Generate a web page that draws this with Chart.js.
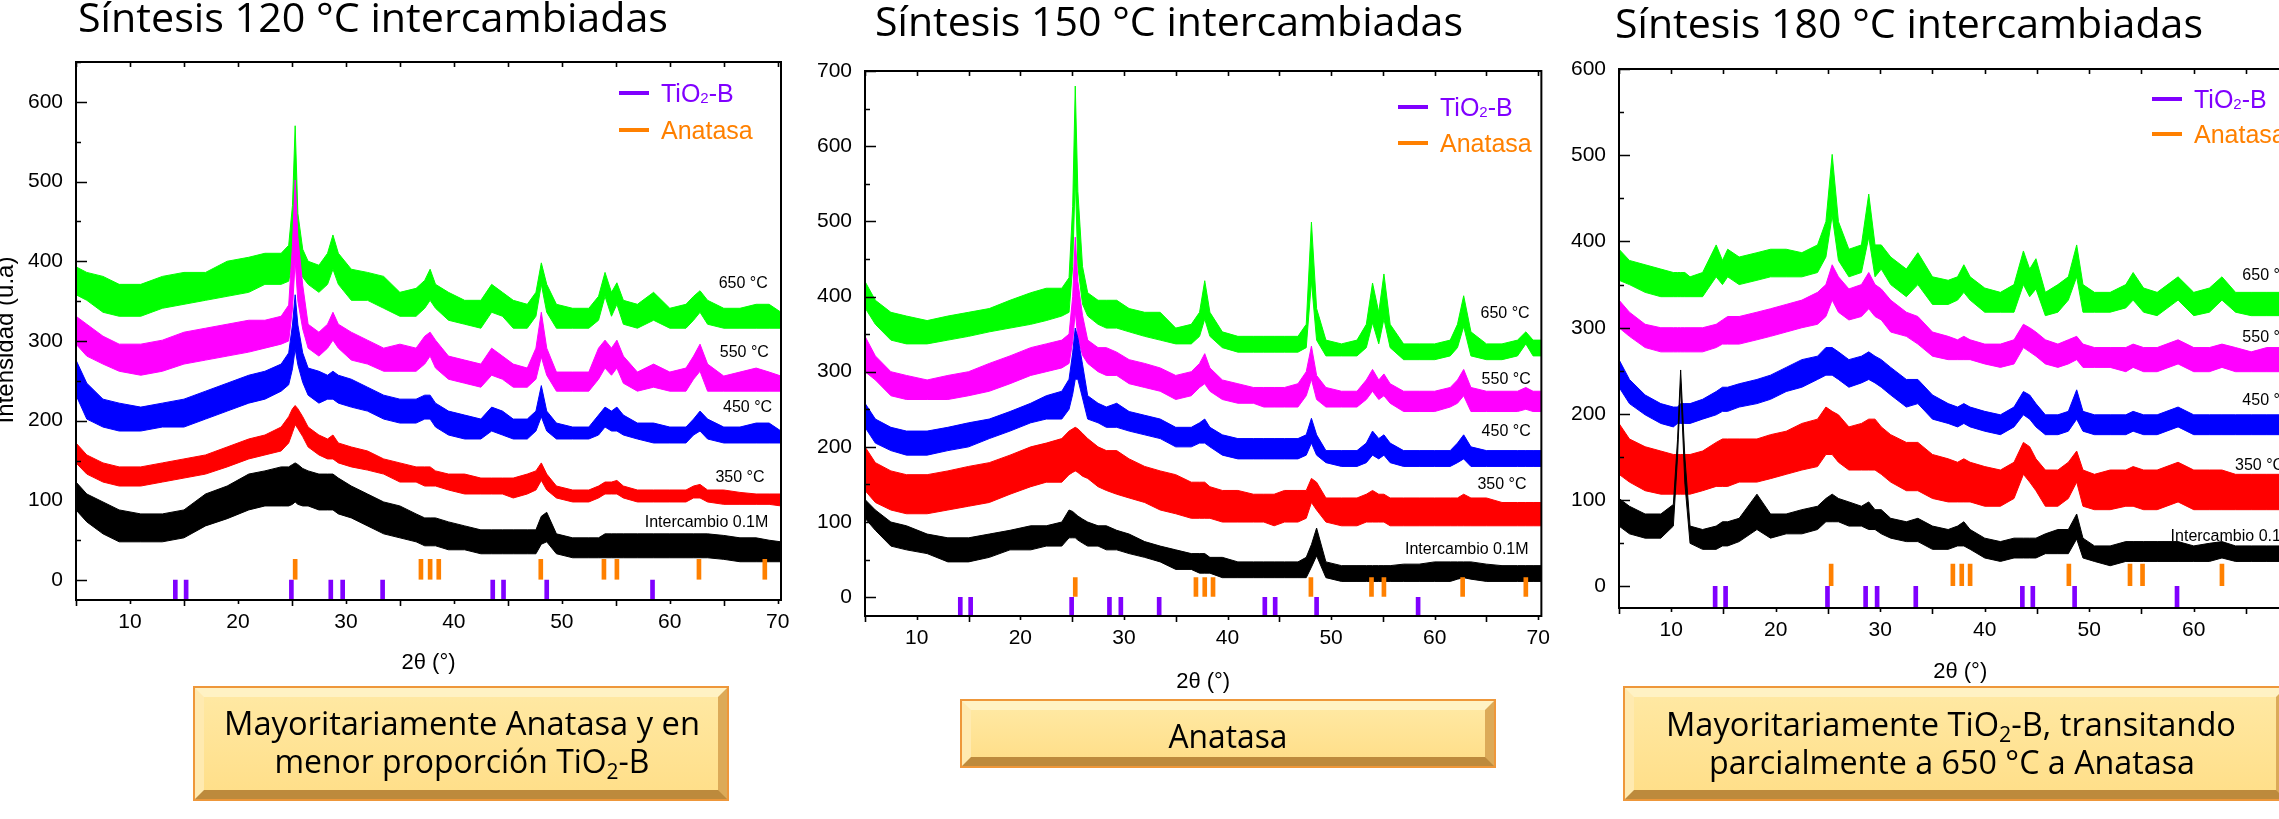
<!DOCTYPE html>
<html>
<head>
<meta charset="utf-8">
<script src="https://cdn.jsdelivr.net/npm/chart.js@4.4.1/dist/chart.umd.min.js"></script>
<style>
  html, body { margin: 0; padding: 0; background: #fff; }
  body { position: relative; width: 2279px; height: 819px; overflow: hidden; }
  canvas { position: absolute; }
  .box {
    position: absolute; box-sizing: border-box;
    border-style: solid; border-width: 9px;
    border-color: #FFF2C4 #DCAA58 #BD8A3C #FFEAB0;
    background: linear-gradient(#FFE8A2, #FFDF8A);
    outline: 2px solid #EE973A;
  }
  svg.txt { position: absolute; left: 0; top: 0; }
</style>
</head>
<body>
<div class="box" style="left:195px;top:688px;width:532px;height:111px"></div>
<div class="box" style="left:962px;top:701px;width:532px;height:65px"></div>
<div class="box" style="left:1625px;top:688px;width:660px;height:111px"></div>

<canvas id="c120" width="800" height="700" style="left:0;top:0"></canvas>
<canvas id="c150" width="780" height="720" style="left:780px;top:0"></canvas>
<canvas id="c180" width="760" height="700" style="left:1560px;top:0"></canvas>

<svg class="txt" width="2279" height="819">
  <g font-family="'Open Sans', 'Noto Sans', sans-serif" fill="#000">
    <text x="78" y="32" font-size="41" textLength="590" lengthAdjust="spacingAndGlyphs">Síntesis 120 °C intercambiadas</text>
    <text x="875" y="36" font-size="41" textLength="588" lengthAdjust="spacingAndGlyphs">Síntesis 150 °C intercambiadas</text>
    <text x="1615" y="38" font-size="41" textLength="588" lengthAdjust="spacingAndGlyphs">Síntesis 180 °C intercambiadas</text>

    <text x="462" y="735" font-size="32" text-anchor="middle" textLength="476" lengthAdjust="spacingAndGlyphs">Mayoritariamente Anatasa y en</text>
    <text x="462" y="773" font-size="32" text-anchor="middle" textLength="375" lengthAdjust="spacingAndGlyphs">menor proporción TiO<tspan font-size="21" dy="6">2</tspan><tspan dy="-6">-B</tspan></text>

    <text x="1228" y="748" font-size="32" text-anchor="middle" textLength="119" lengthAdjust="spacingAndGlyphs">Anatasa</text>

    <text x="1951" y="736" font-size="32" text-anchor="middle" textLength="570" lengthAdjust="spacingAndGlyphs">Mayoritariamente TiO<tspan font-size="21" dy="6">2</tspan><tspan dy="-6">-B, transitando</tspan></text>
    <text x="1952" y="774" font-size="32" text-anchor="middle" textLength="486" lengthAdjust="spacingAndGlyphs">parcialmente a 650 °C a Anatasa</text>
  </g>
</svg>

<script>
// ---------- Reference reflections (2θ, degrees) ----------
const anatasePeaks = [25.3, 36.95, 37.8, 38.6, 48.05, 53.9, 55.1, 62.7, 68.8];
const tio2bPeaks = [14.2, 15.2, 24.95, 28.6, 29.7, 33.4, 43.6, 44.6, 48.6, 58.4];
const anataseMarkSpan = [1, 26];
const tio2bMarkSpan = [-25, 0];

// ---------- Tick labels ----------
const xTickValues = [10, 20, 30, 40, 50, 60, 70];
const yTicks120 = [0, 100, 200, 300, 400, 500, 600];
const yTicks150 = [0, 100, 200, 300, 400, 500, 600, 700];
const yTicks180 = [0, 100, 200, 300, 400, 500, 600];

const seriesNames = ['Intercambio 0.1M', '350 °C', '450 °C', '550 °C', '650 °C'];

// ---------- Síntesis 120 °C : upper / lower edge of each noisy trace ----------
const twoTheta120 = [5,6,7.5,9,11,13,15,17,19,21, 22.5,24,24.7,25.05,25.3,25.55,26,26.5,27.5,28.3, 28.8,29.3,30.5,32,33.5,35,36.5,37.3,37.8,38.3, 39.5,41,42.5,43.5,44.5,45.5,46.8,47.6,48.1,48.6, 49.5,51,52.5,53.4,54,54.6,55.1,55.7,57,58.5, 60,61.5,62.2,62.8,63.5,65,66.5,68,69.2,70.3];
const hi120_650 = [393,386,381,371,371,381,386,386,400,405, 410,410,420,470,570,460,415,400,395,410, 433,410,390,386,381,361,366,376,390,371, 361,351,351,371,361,351,346,361,398,371, 346,341,341,356,386,361,373,351,346,361, 341,346,356,363,351,341,341,346,346,336];
const lo120_650 = [358,351,336,331,331,341,346,351,356,361, 371,371,375,400,450,400,380,371,361,371, 390,371,351,351,341,331,331,341,351,341, 326,321,316,336,331,316,316,331,371,336, 316,316,316,326,356,331,346,321,316,326, 316,316,326,336,321,316,316,316,316,316];
const hi120_550 = [331,321,306,296,296,301,311,316,321,326, 326,331,345,420,502,430,370,321,311,321, 336,321,311,301,291,296,291,306,311,301, 281,276,271,291,281,271,266,291,336,291, 261,261,261,291,301,291,301,281,261,271, 261,266,281,296,271,256,261,266,261,256];
const lo120_550 = [296,281,271,262,257,262,271,276,281,286, 291,296,300,340,400,350,315,291,281,291, 301,291,276,271,262,262,262,271,281,266, 252,247,242,257,252,242,242,252,280,257, 237,237,237,252,266,257,266,247,237,242, 237,237,252,262,237,237,237,237,237,237];
const hi120_450 = [276,247,227,222,217,222,227,237,247,257, 262,271,285,320,358,320,285,266,262,257, 262,257,252,242,232,227,227,232,232,222, 212,207,202,217,212,202,202,212,244,212, 197,192,192,207,217,212,217,207,197,197, 192,192,202,212,202,192,192,197,197,187];
const lo120_450 = [232,202,192,187,187,192,192,202,212,222, 227,237,245,265,290,270,248,232,222,227, 227,222,217,212,202,197,197,202,202,192, 182,177,177,187,182,177,177,187,205,187, 177,177,177,182,192,187,187,182,177,172, 172,172,182,187,177,172,172,172,172,172];
const hi120_350 = [172,157,147,142,142,147,152,157,167,177, 182,192,205,215,219,215,205,192,182,177, 182,172,167,162,152,147,142,142,142,137, 133,133,128,128,128,128,133,137,147,133, 118,113,113,118,123,123,125,118,113,113, 113,113,118,120,113,113,110,108,108,108];
const lo120_350 = [147,133,123,118,118,123,128,133,142,152, 157,162,172,185,195,190,180,167,157,152, 152,147,142,138,133,123,123,118,118,118, 113,108,108,108,108,103,108,113,125,113, 103,98,98,103,108,108,108,103,98,98, 98,98,103,103,98,95,95,95,95,93];
const hi120_01M = [123,108,98,88,83,83,88,108,118,133, 137,142,142,145,147,145,140,137,133,133, 133,128,118,108,98,93,83,78,78,78, 73,68,63,63,63,63,63,63,80,85, 58,53,53,53,58,58,58,58,58,58, 58,58,58,58,58,56,53,53,50,48];
const lo120_01M = [88,73,58,48,48,48,53,68,77,88, 93,93,93,95,98,95,93,93,88,88, 88,83,78,68,58,53,48,43,43,43, 38,38,33,33,33,33,33,33,45,48, 33,28,28,28,28,28,28,28,28,28, 28,28,28,28,28,26,23,23,23,23];

// ---------- Síntesis 150 °C ----------
const twoTheta150 = [5,6,7.5,9,11,13,15,17,19,21, 22.5,24,24.7,25.05,25.3,25.55,26,26.5,27.5,28.3, 29.3,30.5,32,33.5,35,36.5,37.3,37.8,38.3,39.5, 41,42.5,43.5,44.5,45.5,46.8,47.6,48.1,48.6,49.5, 51,52.5,53.4,54,54.6,55.1,55.7,57,58.5,60, 61.5,62.2,62.8,63.5,65,66.5,68,68.8,69.5,70.3];
const hi150_650 = [420,395,379,374,368,374,379,384,395,405, 411,411,425,520,680,540,440,405,395,395, 395,384,379,379,358,363,379,421,379,353, 347,347,347,347,347,347,363,499,384,342, 337,342,363,418,379,430,363,337,337,337, 342,363,401,353,337,337,342,353,342,342];
const lo150_650 = [385,363,342,337,337,342,347,353,358,363, 368,374,379,440,560,440,390,374,363,358, 358,353,347,342,337,337,347,370,347,332, 326,326,326,326,326,326,332,420,342,321, 321,321,332,365,337,370,332,316,316,316, 321,332,360,321,316,316,321,337,321,321];
const hi150_550 = [347,321,300,295,289,295,300,311,321,332, 337,342,350,400,479,420,375,342,332,332, 326,316,311,305,295,300,311,324,305,289, 284,279,279,279,279,284,300,334,295,279, 274,274,289,303,289,297,284,274,274,274, 279,289,303,279,274,274,274,279,274,274];
const lo150_550 = [300,289,268,263,263,263,268,274,284,295, 300,305,311,340,380,345,322,311,300,295, 295,284,279,274,263,268,279,284,274,263, 258,258,253,253,253,253,268,290,263,253, 253,253,263,274,263,268,258,247,247,247, 253,258,268,247,247,247,247,250,247,247];
const hi150_450 = [258,237,226,221,221,226,232,237,247,258, 268,274,290,325,358,345,310,268,258,253, 258,247,242,237,226,226,232,237,226,216, 211,211,211,211,211,211,216,238,216,195, 195,195,205,221,211,216,205,195,195,195, 195,205,216,200,195,195,195,195,195,195];
const lo150_450 = [226,205,195,189,189,195,200,211,221,232, 237,237,250,270,290,290,265,237,232,226, 226,221,216,211,200,200,205,205,200,189, 184,184,184,184,184,184,189,205,189,179, 174,174,179,189,184,189,179,174,174,174, 174,179,184,174,174,174,174,174,174,174];
const hi150_350 = [200,179,168,163,163,168,174,179,189,200, 205,211,221,224,226,224,218,211,200,195, 195,184,174,168,163,153,153,153,147,142, 142,137,137,137,142,142,142,158,153,132, 132,132,137,142,137,137,132,132,132,132, 132,132,137,132,132,126,126,126,126,126];
const lo150_350 = [142,126,116,111,111,116,121,126,137,147, 153,153,163,166,168,166,161,158,147,142, 137,132,126,116,111,105,105,105,105,100, 100,100,100,95,100,100,105,126,116,100, 95,95,100,100,100,100,95,95,95,95, 95,95,95,95,95,95,95,95,95,95];
const hi150_01M = [130,116,100,95,84,79,79,84,89,95, 95,100,116,114,111,108,104,100,95,95, 89,84,74,68,63,58,58,58,53,53, 47,47,47,47,47,47,53,70,92,47, 42,42,42,42,42,42,42,44,44,47, 47,47,47,47,44,42,42,42,42,42];
const lo150_01M = [105,89,68,63,58,47,47,53,63,63, 68,68,79,79,79,76,72,68,68,63, 63,58,53,47,37,37,32,32,32,26, 26,26,26,26,26,26,26,40,55,26, 21,21,21,21,21,21,21,21,21,21, 21,24,26,24,21,21,21,21,21,21];

// ---------- Síntesis 180 °C ----------
const twoTheta180 = [5,6,7.5,9,10.2,10.6,10.9,11.3,11.8,13, 14.3,14.9,15.4,16.5,18.2,19.5,21,22.5,24,24.8, 25.4,26,27,28.2,28.9,29.5,30.1,31,32.5,33.6, 35,36.5,37.4,38,38.6,40,41.5,42.8,43.7,44.3, 44.9,45.8,47,48,48.8,49.4,50.5,52,53.5,54.2, 55.2,56.5,58.5,60,61.5,62.7,64,65.5,67,68.5, 70.3];
const hi180_650 = [391,378,373,368,364,364,364,364,359,364, 396,378,391,382,387,391,391,387,396,423, 501,423,391,396,455,396,396,382,368,387, 359,355,359,373,359,346,341,350,389,368, 380,341,350,359,396,350,341,341,350,364, 346,341,359,341,346,359,341,341,341,341, 341];
const lo180_650 = [355,350,341,336,336,336,336,336,336,336, 359,350,359,350,355,359,359,359,364,382, 430,378,359,364,405,359,368,350,336,350, 327,327,332,341,332,318,318,318,350,336, 345,314,318,332,359,318,318,318,323,332, 318,314,332,314,318,332,318,314,314,314, 314];
const hi180_550 = [332,318,304,300,300,300,300,300,300,300, 304,309,313,313,318,322,327,332,341,350, 373,359,345,350,364,350,345,332,318,313, 295,290,286,290,286,281,281,286,304,300, 295,286,281,286,290,281,277,277,277,281, 277,277,286,277,277,281,277,272,277,277, 277];
const lo180_550 = [300,290,277,272,272,272,272,272,272,272, 277,281,281,281,286,290,295,300,304,313, 332,318,309,313,322,313,309,295,290,281, 267,263,263,263,263,258,254,258,277,272, 267,258,254,258,263,254,254,254,249,254, 249,249,258,249,249,254,249,249,249,249, 249];
const hi180_450 = [263,240,222,212,208,208,212,212,212,217, 226,231,231,235,240,245,254,263,267,277, 277,272,263,267,272,267,263,254,240,240, 222,212,208,212,208,203,199,208,226,222, 212,199,199,203,228,203,199,199,199,203, 199,199,208,199,199,199,199,199,199,199, 199];
const lo180_450 = [231,212,199,189,185,189,189,189,189,194, 199,203,203,208,212,217,226,231,240,245, 245,240,231,236,240,236,231,222,208,212, 194,189,185,189,185,180,176,185,199,194, 185,176,176,180,194,180,176,176,176,180, 176,176,185,176,176,176,176,176,176,176, 176];
const hi180_350 = [189,171,162,157,153,153,153,153,153,157, 167,171,171,171,171,176,180,189,194,208, 203,199,185,189,194,194,185,176,167,167, 153,148,144,148,144,139,135,144,167,162, 148,135,135,144,157,135,130,135,135,139, 135,135,144,135,135,135,130,130,130,130, 130];
const lo180_350 = [130,121,111,107,107,107,107,107,107,111, 116,116,116,121,121,125,130,135,139,153, 153,144,135,135,135,135,130,121,111,111, 102,98,98,98,98,93,93,102,130,121, 111,93,93,102,121,93,89,89,93,93, 89,89,98,89,89,89,89,89,89,89, 89];
const hi180_01M = [102,93,84,84,95,170,251,150,70,66, 70,75,75,79,107,84,84,89,93,102, 107,102,98,93,98,89,89,79,75,79, 70,66,70,75,66,56,52,56,56,56, 56,61,66,66,84,56,47,47,52,52, 52,52,52,47,50,52,47,47,47,47, 47];
const lo180_01M = [70,61,56,56,70,150,235,120,50,43, 43,47,47,52,66,56,61,61,66,75, 75,75,70,70,66,66,61,56,52,52, 43,43,47,47,43,33,29,33,33,33, 33,38,38,38,55,33,29,24,29,29, 29,29,29,29,29,33,29,29,29,29, 29];

// ---------- drawing ----------
const FONT = '"Liberation Sans", Arial, Helvetica, sans-serif';
const COLORS = ['#000000', '#FF0000', '#0000FF', '#FF00FF', '#00FF00'];
const PURPLE = '#8000FF', ORANGE = '#FF8000';

Chart.defaults.font.family = FONT;
Chart.defaults.color = '#000';

function pts(grid, vals) { return grid.map((t, i) => ({ x: t, y: vals[i] })); }

function buildDatasets(grid, his, los) {
  const ds = [
    { type: 'bar', label: 'Anatasa', data: anatasePeaks.map(p => ({ x: p, y: anataseMarkSpan })),
      backgroundColor: ORANGE, barThickness: 4, grouped: false, borderWidth: 0 },
    { type: 'bar', label: 'TiO2-B', data: tio2bPeaks.map(p => ({ x: p, y: tio2bMarkSpan })),
      backgroundColor: PURPLE, barThickness: 4, grouped: false, borderWidth: 0 }
  ];
  his.forEach((hi, k) => {
    ds.push({ type: 'line', label: seriesNames[k], data: pts(grid, hi), borderColor: COLORS[k],
      borderWidth: 1, pointRadius: 0, tension: 0, fill: false });
    ds.push({ type: 'line', label: seriesNames[k], data: pts(grid, los[k]), borderColor: COLORS[k],
      backgroundColor: COLORS[k], borderWidth: 1, pointRadius: 0, tension: 0, fill: '-1' });
  });
  return ds;
}

const decor = {
  id: 'decor',
  afterDatasetsDraw(chart, args, o) {
    const { ctx, chartArea: a, scales: { x, y } } = chart;
    ctx.save();
    ctx.strokeStyle = '#000';
    ctx.lineWidth = 2;
    ctx.strokeRect(a.left, a.top, a.right - a.left, a.bottom - a.top);
    ctx.lineWidth = 1.6;
    ctx.beginPath();
    for (let v = Math.ceil(y.min / 50) * 50; v <= y.max; v += 50) {
      const py = Math.round(y.getPixelForValue(v)) + 0.5;
      const len = v % 100 === 0 ? 11 : 5;
      ctx.moveTo(a.left, py); ctx.lineTo(a.left + len, py);
    }
    for (let t = 5; t <= x.max; t += 5) {
      const px = Math.round(x.getPixelForValue(t)) + 0.5;
      ctx.moveTo(px, a.bottom); ctx.lineTo(px, a.bottom + (t % 10 === 5 ? 6 : 4));
      ctx.moveTo(px, a.top); ctx.lineTo(px, a.top + 5);
    }
    ctx.stroke();

    // curve labels
    ctx.fillStyle = '#000';
    ctx.font = '16px ' + FONT;
    ctx.textAlign = 'center';
    ctx.textBaseline = 'middle';
    o.labels.forEach((l, k) => {
      ctx.fillText(seriesNames[k], x.getPixelForValue(l[0]), y.getPixelForValue(l[1]));
    });

    // x axis title
    ctx.font = '22px ' + FONT;
    ctx.fillText('2θ (°)', (a.left + a.right) / 2, o.xTitleY);

    // y axis title (only on the first panel)
    if (o.yTitle) {
      ctx.save();
      ctx.translate(o.yTitle[0], o.yTitle[1]);
      ctx.rotate(-Math.PI / 2);
      ctx.textBaseline = 'alphabetic';
      ctx.font = '24px ' + FONT;
      ctx.fillText('Intensidad (u.a)', 0, 0);
      ctx.restore();
    }

    // phase legend
    const L = o.legend;
    ctx.lineWidth = 4;
    ctx.textAlign = 'left';
    ctx.textBaseline = 'alphabetic';
    [[PURPLE, L.y1, true], [ORANGE, L.y2, false]].forEach(([c, ly, isB]) => {
      ctx.strokeStyle = c; ctx.fillStyle = c;
      ctx.beginPath(); ctx.moveTo(L.x, ly); ctx.lineTo(L.x + 30, ly); ctx.stroke();
      let tx = L.x + 42;
      const base = ly + 9;
      ctx.font = '25px ' + FONT;
      if (isB) {
        ctx.fillText('TiO', tx, base); tx += ctx.measureText('TiO').width;
        ctx.font = '15px ' + FONT;
        ctx.fillText('2', tx, base + 1); tx += ctx.measureText('2').width;
        ctx.font = '25px ' + FONT;
        ctx.fillText('-B', tx, base);
      } else {
        ctx.fillText('Anatasa', tx, base);
      }
    });
    ctx.restore();
  }
};

function makeChart(id, cfg) {
  return new Chart(document.getElementById(id), {
    type: 'line',
    data: { datasets: buildDatasets(cfg.grid, cfg.his, cfg.los) },
    options: {
      responsive: false,
      animation: false,
      devicePixelRatio: 1,
      layout: { padding: cfg.padding },
      plugins: { legend: { display: false }, tooltip: { enabled: false }, decor: cfg.decor },
      scales: {
        x: {
          type: 'linear', min: 5, max: 70.3, offset: false,
          grid: { display: false, drawTicks: false, offset: false }, border: { display: false },
          ticks: { padding: 10, font: { size: 21 }, color: '#000' },
          afterBuildTicks: s => { s.ticks = xTickValues.map(v => ({ value: v })); },
          afterFit: s => { s.height = 40; }
        },
        y: {
          type: 'linear', min: -25, max: cfg.yMax,
          grid: { display: false, drawTicks: false }, border: { display: false },
          ticks: { padding: 13, font: { size: 21 }, color: '#000' },
          afterBuildTicks: s => { s.ticks = cfg.yTicks.map(v => ({ value: v })); },
          afterFit: s => { s.width = cfg.yWidth; }
        }
      }
    },
    plugins: [decor]
  });
}

makeChart('c120', {
  grid: twoTheta120,
  his: [hi120_01M, hi120_350, hi120_450, hi120_550, hi120_650],
  los: [lo120_01M, lo120_350, lo120_450, lo120_550, lo120_650],
  yMax: 650, yTicks: yTicks120, yWidth: 76,
  padding: { left: 0, top: 62, right: 19, bottom: 60 },
  decor: {
    labels: [[63.4, 72], [66.5, 129], [67.2, 216], [66.9, 286], [66.8, 372]],
    xTitleY: 663, yTitle: [13, 340],
    legend: { x: 619, y1: 93, y2: 130 }
  }
});

makeChart('c150', {
  grid: twoTheta150,
  his: [hi150_01M, hi150_350, hi150_450, hi150_550, hi150_650],
  los: [lo150_01M, lo150_350, lo150_450, lo150_550, lo150_650],
  yMax: 700, yTicks: yTicks150, yWidth: 85,
  padding: { left: 0, top: 71, right: 13, bottom: 64 },
  decor: {
    labels: [[63.1, 63], [66.5, 150], [66.9, 220], [66.9, 289], [66.8, 377]],
    xTitleY: 682,
    legend: { x: 618, y1: 107, y2: 143 }
  }
});

makeChart('c180', {
  grid: twoTheta180,
  his: [hi180_01M, hi180_350, hi180_450, hi180_550, hi180_650],
  los: [lo180_01M, lo180_350, lo180_450, lo180_550, lo180_650],
  yMax: 600, yTicks: yTicks180, yWidth: 59,
  padding: { left: 0, top: 69, right: 18, bottom: 52 },
  decor: {
    labels: [[63.7, 58], [66.3, 140], [67.0, 215], [67.0, 289], [67.0, 360]],
    xTitleY: 672,
    legend: { x: 592, y1: 99, y2: 134 }
  }
});
</script>
</body>
</html>
